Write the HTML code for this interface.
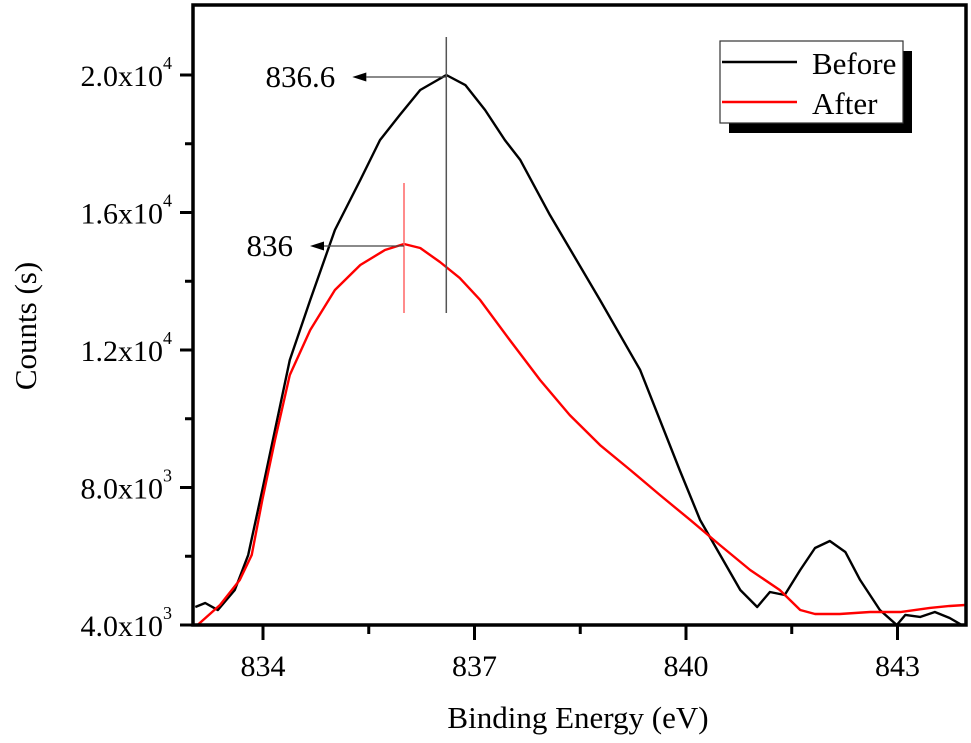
<!DOCTYPE html>
<html><head><meta charset="utf-8"><style>
html,body{margin:0;padding:0;background:#fff;}
svg text{font-family:"Liberation Serif",serif;fill:#000;}
</style></head><body>
<svg id="chart" width="971" height="738" viewBox="0 0 971 738" xmlns="http://www.w3.org/2000/svg"></svg>
<script>
const xBefore=[833.04,833.18,833.36,833.60,833.79,833.99,834.17,834.38,834.67,835.02,835.38,835.66,835.94,836.23,836.60,836.87,837.15,837.43,837.65,838.07,838.78,839.35,839.91,840.20,840.77,841.01,841.19,841.40,841.62,841.83,842.04,842.26,842.47,842.75,842.99,843.11,843.32,843.53,843.74,843.96];
const yBefore=[4524,4640,4436,5018,6036,7927,9673,11709,13455,15491,16945,18109,18836,19564,20000,19709,18982,18109,17527,15927,13455,11418,8509,7055,5018,4524,4960,4873,5600,6240,6444,6124,5309,4436,4000,4291,4233,4378,4204,3942];
const xAfter=[833.04,833.39,833.67,833.84,833.99,834.17,834.38,834.67,835.02,835.38,835.73,836.00,836.23,836.51,836.79,837.08,837.50,837.93,838.35,838.78,839.21,839.63,840.06,840.48,840.91,841.33,841.62,841.83,842.18,842.61,843.04,843.46,843.74,843.96];
const yAfter=[3942,4582,5309,6036,7636,9382,11273,12582,13745,14473,14909,15084,14967,14560,14095,13455,12291,11127,10109,9236,8509,7782,7055,6327,5600,5018,4436,4320,4320,4378,4378,4495,4553,4582];
const xTicks=[834,837,840,843];
const xMinor=[835.5,838.5,841.5];
const yTicks=[4000,8000,12000,16000,20000];
const yTickLabels=[["4.0x10","3"],["8.0x10","3"],["1.2x10","4"],["1.6x10","4"],["2.0x10","4"]];
const yMinor=[6000,10000,14000,18000];
const peakBefore=[836.6,20000];
const peakAfter=[836.0,15084];

const L=193,R=966,T=5,B=625;
const X=v=>263+(v-834)*70.5;
const Y=v=>625-(v-4000)*0.034375;
const svg=document.getElementById('chart');
const NS="http://www.w3.org/2000/svg";
function mk(tag,attrs,parent){const e=document.createElementNS(NS,tag);for(const k in attrs)e.setAttribute(k,attrs[k]);(parent||svg).appendChild(e);return e;}

const defs=mk('defs',{});
const cp=mk('clipPath',{id:'clip'},defs);
mk('rect',{x:L,y:T,width:R-L,height:B-T},cp);

function series(xs,ys,color,name){
  const p=mk('polyline',{points:xs.map((x,i)=>X(x)+','+Y(ys[i])).join(' '),fill:'none',stroke:color,'stroke-width':2.4,'clip-path':'url(#clip)','stroke-linejoin':'round'});
  
  
}
series(xBefore,yBefore,'#000','before-line');
series(xAfter,yAfter,'#f00','after-line');

function peak(pk,color,top,label,name){
  const px=X(pk[0]),py=Y(pk[1]);
  const g=mk('g',{});
  
  
  mk('line',{x1:px,y1:top,x2:px,y2:313,stroke:color,'stroke-width':1.5},g);
  mk('line',{x1:px,y1:py+2,x2:px-80,y2:py+2,stroke:'#444','stroke-width':1.3},g);
  mk('polygon',{points:`${px-94},${py+2} ${px-80},${py-2.5} ${px-80},${py+6.5}`,fill:'#000'},g);
  const t=mk('text',{x:px-111,y:py+12,'font-size':31,'text-anchor':'end'},g);
  t.textContent=label;
}
peak(peakBefore,'#555',37,'836.6','peak-before-marker');
peak(peakAfter,'#f66',183,'836','peak-after-marker');

const fr=mk('rect',{x:L,y:T,width:R-L,height:B-T,fill:'none',stroke:'#000','stroke-width':3.5});



xTicks.forEach(v=>{
  mk('line',{x1:X(v),y1:B,x2:X(v),y2:B+15,stroke:'#000','stroke-width':3});
  const t=mk('text',{x:X(v),y:B+51,'font-size':30,'text-anchor':'middle'});
  
  
  t.textContent=v;
});
xMinor.forEach(v=>mk('line',{x1:X(v),y1:B,x2:X(v),y2:B+9,stroke:'#000','stroke-width':3}));
yTicks.forEach((v,i)=>{
  mk('line',{x1:L-13,y1:Y(v),x2:L,y2:Y(v),stroke:'#000','stroke-width':3});
  const t=mk('text',{x:163,y:Y(v)+11,'font-size':30,'text-anchor':'end'});
  
  
  t.textContent=yTickLabels[i][0];
  const s=mk('text',{x:163,y:Y(v)-6,'font-size':18});
  s.textContent=yTickLabels[i][1];
});
yMinor.forEach(v=>mk('line',{x1:L-8,y1:Y(v),x2:L,y2:Y(v),stroke:'#000','stroke-width':3}));

const xt=mk('text',{x:578,y:728,'font-size':31,'text-anchor':'middle'});


xt.textContent='Binding Energy (eV)';
const yt=mk('text',{x:0,y:0,'font-size':31,'text-anchor':'middle',transform:'translate(36,326) rotate(-90)'});


yt.textContent='Counts (s)';

const lg=mk('g',{});


mk('rect',{x:729,y:51,width:183,height:82,fill:'#000'},lg);
mk('rect',{x:720,y:41,width:183,height:82,fill:'#fff',stroke:'#333','stroke-width':1.2},lg);
mk('line',{x1:722,y1:62,x2:797,y2:62,stroke:'#000','stroke-width':2.4},lg);
mk('line',{x1:722,y1:102,x2:797,y2:102,stroke:'#f00','stroke-width':2.4},lg);
const lb=mk('text',{x:812,y:74,'font-size':31},lg);lb.textContent='Before';


const la=mk('text',{x:812,y:114,'font-size':31},lg);la.textContent='After';


</script>
</body></html>
